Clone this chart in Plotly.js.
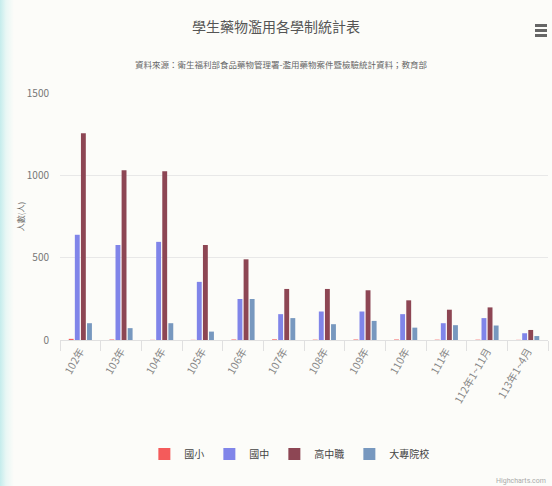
<!DOCTYPE html>
<html>
<head>
<meta charset="utf-8">
<script src="https://cdn.plot.ly/plotly-3.0.1.min.js"></script>
<style>
  html, body { margin: 0; padding: 0; background: #fcfcf9; }
  #wrap { position: relative; width: 552px; height: 486px; overflow: hidden;
          background: linear-gradient(to right, #c4ecec 0px, #e8f7f5 6px, #fcfcf9 14px); }
  #chart { position: absolute; left: 0; top: 0; width: 552px; height: 486px; }
  #menu { position: absolute; left: 535px; top: 24px; width: 12px; }
  #menu div { height: 2.5px; background: #666; margin-bottom: 2.5px; }
</style>
</head>
<body>
<div id="wrap">
  <div id="chart"></div>
  <div id="menu"><div></div><div></div><div></div></div>
</div>
<script>
const categories = ['102年','103年','104年','105年','106年','107年','108年','109年','110年','111年','112年1~11月','113年1~4月'];
const seriesNames = ['國小','國中','高中職','大專院校'];
const elementary = [7, 3, 1, 1, 3, 4, 2, 3, 3, 2, 2, 1];
const juniorHigh = [639, 577, 596, 353, 249, 157, 173, 173, 157, 102, 133, 41];
const seniorHigh = [1255, 1031, 1025, 577, 490, 310, 310, 302, 241, 184, 198, 61];
const college = [102, 72, 102, 51, 249, 133, 96, 116, 75, 90, 88, 24];
const colors = ['#f45b5b', '#8085e9', '#8d4654', '#7798BF'];

const cjk = '"Noto Sans CJK TC", "Noto Sans", sans-serif';
const values = [elementary, juniorHigh, seniorHigh, college];
const traces = seriesNames.map((n, i) => ({
  type: 'bar', name: n, x: categories, y: values[i],
  marker: { color: colors[i], line: { width: 0 } },
  hoverinfo: 'x+y+name'
}));

const layout = {
  width: 552, height: 486,
  paper_bgcolor: 'rgba(0,0,0,0)', plot_bgcolor: 'rgba(0,0,0,0)',
  margin: { l: 60, r: 4, t: 93, b: 146 },
  font: { family: cjk, color: '#666', size: 10 },
  title: { text: '學生藥物濫用各學制統計表', x: 0.5, xanchor: 'center',
           y: 1 - 27/486, yanchor: 'middle', font: { family: cjk, size: 14, color: '#555' } },
  barmode: 'group', bargap: 0.4, bargroupgap: 0.2,
  xaxis: {
    type: 'category', tickson: 'boundaries', ticks: 'outside', ticklen: 10,
    tickcolor: '#e0e0e0', showline: true, linecolor: '#e0e0e0', showgrid: false,
    tickangle: -60, tickfont: { family: cjk, size: 10.5, color: '#888' }, automargin: false
  },
  yaxis: {
    range: [0, 1500], tickvals: [0, 500, 1000, 1500], showgrid: true,
    gridcolor: '#e8e8e8', zeroline: false, showline: false,
    tickfont: { family: cjk, size: 10, color: '#777' }, ticklen: 8, ticks: 'outside', tickcolor: 'rgba(0,0,0,0)',
    title: { text: '人數(人)', font: { family: cjk, size: 8, color: '#666' }, standoff: 0 },
    automargin: false
  },
  legend: { orientation: 'h', x: 0.47, xanchor: 'center', y: (340-454)/247, yanchor: 'middle',
            font: { family: cjk, size: 10, color: '#444' }, itemwidth: 30, traceorder: 'normal' },
  annotations: [
    { text: '資料來源：衛生福利部食品藥物管理署-濫用藥物案件暨檢驗統計資料；教育部',
      xref: 'paper', yref: 'paper', x: (281-60)/488, y: (340-64)/247, xanchor: 'center', yanchor: 'middle',
      showarrow: false, font: { family: cjk, size: 8.5, color: '#666' } },
    { text: 'Highcharts.com', xref: 'paper', yref: 'paper', x: 1, y: (340-481)/247,
      xanchor: 'right', yanchor: 'middle', showarrow: false, font: { size: 7, color: '#aaa', family: 'Roboto, sans-serif' } }
  ],
  showlegend: true
};

Plotly.newPlot('chart', traces, layout, { displayModeBar: false, staticPlot: true });
</script>
</body>
</html>
